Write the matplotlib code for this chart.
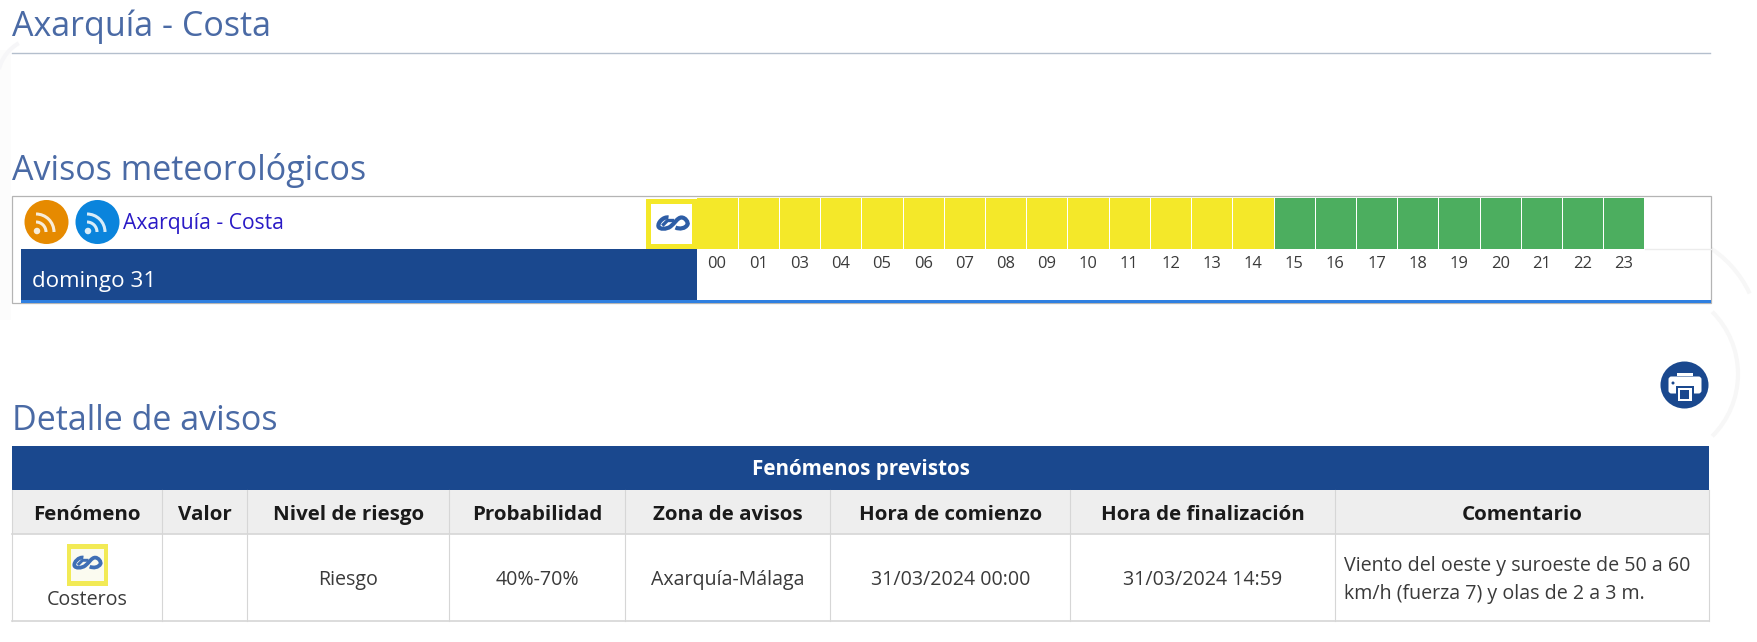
import matplotlib
matplotlib.use('Agg')
import matplotlib.pyplot as plt
from matplotlib.patches import Rectangle, Ellipse, Arc, PathPatch, FancyBboxPatch
from matplotlib.path import Path

plt.rcParams['font.family'] = ['Open Sans', 'DejaVu Sans']

# Data
hours = ['00', '01', '03', '04', '05', '06', '07', '08', '09', '10', '11', '12',
         '13', '14', '15', '16', '17', '18', '19', '20', '21', '22', '23']
levels = ['amarillo'] * 14 + ['verde'] * 9
level_colors = {'amarillo': '#f4e829', 'verde': '#4cae5f'}

table_title = 'Fenómenos previstos'
columns = ['Fenómeno', 'Valor', 'Nivel de riesgo', 'Probabilidad', 'Zona de avisos',
           'Hora de comienzo', 'Hora de finalización', 'Comentario']
row = ['Costeros', '', 'Riesgo', '40%-70%', 'Axarquía-Málaga',
       '31/03/2024 00:00', '31/03/2024 14:59']
comment = ['Viento del oeste y suroeste de 50 a 60', 'km/h (fuerza 7) y olas de 2 a 3 m.']

# Layout in screenshot pixels
col_edges = [12, 162, 247.5, 449.5, 625.5, 830.5, 1070.5, 1335, 1709]
NAVY = '#1a488e'
HEAD = '#4a6aa5'
TEXT = '#3a3a3a'
LINE = '#d6d6d6'
PX = 0.72

fig = plt.figure(figsize=(17.58, 6.42), dpi=100)
ax = fig.add_axes([0, 0, 1, 1])
ax.set_xlim(0, 1758)
ax.set_ylim(642, 0)
ax.axis('off')


def rect(x0, y0, x1, y1, color, z=2):
    ax.add_patch(Rectangle((x0, y0), x1 - x0, y1 - y0, fc=color, ec='none', zorder=z))


def wave(cx, cy, s, color='#2d5da6'):
    # the two linked curls of the coastal icon
    pts = [(-4, -6), (-9, -7), (-15, -1), (-14, 3), (-13, 6), (-6, 6), (-2, 3),
           (2, 0), (5, -6), (9, -6), (13, -6), (16, -1), (15, 1), (13, 5), (7, 6), (3, 4)]
    verts = [(cx + x * s, cy + y * s) for x, y in pts]
    codes = [Path.MOVETO] + [Path.CURVE4] * (len(pts) - 1)
    ax.add_patch(PathPatch(Path(verts, codes), fc='none', ec=color, lw=3.0 * s, zorder=5))
    # inner stroke of the first curl
    ax.plot([cx - 9 * s, cx - 5 * s, cx], [cy + s, cy - 3 * s, cy - 3 * s], color=color, lw=2.4 * s, zorder=5)


def rss(cx, cy, color, glyph):
    ax.add_patch(Ellipse((cx, cy), 44, 44, fc=color, ec='none', zorder=3))
    ox, oy = cx - 9.5, cy + 9
    ax.add_patch(Ellipse((ox, oy), 6.5, 6.5, fc=glyph, ec='none', zorder=4))
    for d in (20, 36):
        ax.add_patch(Arc((ox - 1, oy + 1), d, d, theta1=-90, theta2=0, color=glyph, lw=2.2, zorder=4))


# faint watermark arcs behind the page
ax.add_patch(Arc((1650, 340), 220, 220, theta1=-60, theta2=-25, color='#f7f7f7', lw=3, zorder=1))
ax.add_patch(Arc((1650, 374), 176, 176, theta1=-45, theta2=45, color='#f7f7f7', lw=3, zorder=1))
rect(0, 50, 11, 320, '#fcfcfc', 1)
ax.add_patch(Arc((40, 80), 85, 85, theta1=195, theta2=240, color='#f6f6f8', lw=3, zorder=1))

# section headings
ax.text(12, 36, 'Axarquía - Costa', fontsize=34 * PX, color=HEAD, va='baseline')
ax.plot([12, 1710], [53, 53], color='#b4bfcd', lw=1, zorder=2)
ax.text(12, 179.5, 'Avisos meteorológicos', fontsize=34 * PX, color=HEAD, va='baseline')
ax.text(12, 430, 'Detalle de avisos', fontsize=34 * PX, color=HEAD, va='baseline')

# warnings strip
ax.add_patch(Rectangle((12.5, 196), 1699, 107, fc='white', ec='#b4b4b4', lw=0.9, zorder=2))
rss(46.5, 222, '#e68a00', '#f8ecd8')
rss(97.5, 222, '#0a84dc', '#d8ecf8')
ax.text(123, 229, 'Axarquía - Costa', fontsize=21.2 * PX, color='#2a1ac6', va='baseline', zorder=4)
rect(21, 249, 697, 300, NAVY, 3)
rect(21, 300, 1711, 303, '#2f7fe0', 3)
ax.text(32.5, 282, 'domingo 31', fontsize=22.4 * PX, color='white', va='center', zorder=4)
ax.plot([1645, 1711], [249, 249], color='#ececec', lw=1, zorder=3)

rect(646, 199, 697, 249, level_colors['amarillo'], 3)
rect(651, 204, 692, 244, 'white', 4)
wave(672.5, 223.5, 1.0)

cell_w = (1645 - 697) / len(hours)
for i, (hour, level) in enumerate(zip(hours, levels)):
    x0 = 697 + i * cell_w
    rect(x0 + 0.5, 198, x0 + cell_w - 0.5, 249, level_colors[level], 3)
    ax.text(x0 + cell_w / 2 - 0.5, 264, hour, fontsize=16.5 * PX, color=TEXT, ha='center', va='center', zorder=4)

# print button
ax.add_patch(Ellipse((1684.5, 385), 48, 47, fc=NAVY, ec='none', zorder=3))
ax.add_patch(FancyBboxPatch((1670, 378), 30, 14, boxstyle='round,pad=1.5,rounding_size=3', fc='white', ec='none', zorder=4))
rect(1677, 373, 1693, 376, 'white', 4)
rect(1676, 386, 1694, 403, NAVY, 5)
rect(1678, 388, 1692, 401, 'white', 6)
rect(1680.5, 390, 1689.5, 399, NAVY, 7)
ax.add_patch(Ellipse((1673, 383), 3, 3, fc=NAVY, ec='none', zorder=6))

# details table
rect(12, 446, 1709, 490, NAVY, 2)
ax.text((12 + 1709) / 2, 475.5, table_title, fontsize=20.6 * PX, fontweight='bold', color='white',
        ha='center', va='baseline', zorder=4)
rect(12, 490, 1709, 534, '#eeeeee', 2)
for x in col_edges:
    ax.plot([x, x], [490, 620.5], color=LINE, lw=0.8, zorder=3)
ax.plot([12, 1709], [534, 534], color=LINE, lw=1.2, zorder=3)
ax.plot([12, 1709], [620.5, 620.5], color=LINE, lw=1.2, zorder=3)

for i, name in enumerate(columns):
    xc = (col_edges[i] + col_edges[i + 1]) / 2
    ax.text(xc, 520, name, fontsize=20.5 * PX, fontweight='bold', color='#1a1a1a',
            ha='center', va='baseline', zorder=4)

for i, value in enumerate(row):
    xc = (col_edges[i] + col_edges[i + 1]) / 2
    y = 600 if i == 0 else 580
    ax.text(xc, y, value, fontsize=19.6 * PX, color=TEXT, ha='center', va='center', zorder=4)

rect(67, 544, 108, 586, '#f2ea55', 3)
rect(71, 549, 104, 581, '#fbfbf0', 4)
wave(87, 563, 0.9, '#3f6fb5')

for j, line in enumerate(comment):
    ax.text(1344, 566 + j * 28, line, fontsize=19.7 * PX, color=TEXT, va='center', zorder=4)

plt.savefig('out.png', dpi=100)
